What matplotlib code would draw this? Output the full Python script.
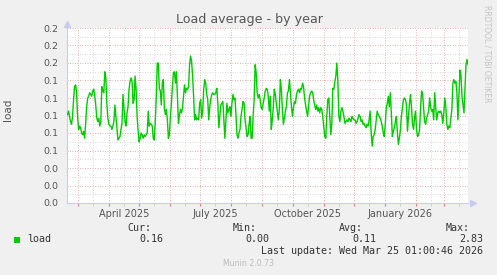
import pandas as pd
import matplotlib
matplotlib.use('Agg')
import matplotlib.pyplot as plt
import matplotlib.dates as mdates
from matplotlib.ticker import MultipleLocator, FormatStrFormatter, FuncFormatter, NullFormatter
from matplotlib.patches import Rectangle

# Daily load average (about one value per day)
load = [
    0.101, 0.105, 0.099, 0.093, 0.090, 0.099, 0.118, 0.133, 0.135, 0.126, 0.099, 0.084, 0.088,
    0.086, 0.080, 0.078, 0.082, 0.074, 0.091, 0.110, 0.120, 0.122, 0.126, 0.124, 0.122, 0.128,
    0.130, 0.122, 0.112, 0.097, 0.093, 0.097, 0.088, 0.093, 0.133, 0.128, 0.126, 0.150, 0.143,
    0.114, 0.097, 0.090, 0.088, 0.088, 0.084, 0.088, 0.093, 0.112, 0.099, 0.086, 0.072, 0.074,
    0.076, 0.084, 0.091, 0.124, 0.109, 0.093, 0.088, 0.103, 0.110, 0.130, 0.139, 0.143, 0.139,
    0.114, 0.118, 0.145, 0.130, 0.099, 0.082, 0.070, 0.074, 0.080, 0.078, 0.074, 0.078, 0.076,
    0.078, 0.080, 0.105, 0.088, 0.091, 0.090, 0.088, 0.074, 0.072, 0.093, 0.122, 0.160, 0.160,
    0.131, 0.128, 0.112, 0.137, 0.141, 0.109, 0.101, 0.107, 0.095, 0.074, 0.078, 0.099, 0.114,
    0.133, 0.149, 0.150, 0.137, 0.150, 0.122, 0.091, 0.101, 0.107, 0.103, 0.109, 0.122, 0.135,
    0.126, 0.131, 0.130, 0.133, 0.158, 0.168, 0.162, 0.145, 0.122, 0.095, 0.101, 0.095, 0.097,
    0.095, 0.114, 0.118,
    0.097, 0.105, 0.130, 0.141, 0.137, 0.124, 0.118, 0.095, 0.110, 0.118, 0.124, 0.126, 0.124,
    0.124, 0.126, 0.131, 0.114, 0.086, 0.099, 0.112, 0.114, 0.116, 0.095, 0.074, 0.093, 0.114,
    0.103, 0.107, 0.110, 0.099, 0.114, 0.124, 0.118, 0.120, 0.101, 0.078, 0.074, 0.080, 0.084,
    0.099, 0.107, 0.116, 0.114, 0.095, 0.086, 0.076, 0.078, 0.090, 0.099, 0.074, 0.074, 0.099,
    0.118, 0.158, 0.149, 0.126, 0.120, 0.124, 0.118, 0.109, 0.107, 0.114, 0.120, 0.128, 0.131,
    0.130, 0.122, 0.105,
    0.122, 0.084, 0.095, 0.109, 0.130, 0.124, 0.114, 0.103, 0.095, 0.107, 0.141, 0.130, 0.107,
    0.090, 0.097, 0.105, 0.110, 0.126, 0.128, 0.141, 0.126, 0.110, 0.099, 0.109, 0.116, 0.114,
    0.124, 0.128, 0.130, 0.126, 0.131, 0.130, 0.137, 0.133, 0.120, 0.112, 0.105, 0.099, 0.112,
    0.122, 0.126, 0.128, 0.126, 0.118, 0.112, 0.107, 0.112, 0.105, 0.109, 0.103, 0.109, 0.107,
    0.099, 0.088, 0.076, 0.074, 0.099, 0.118, 0.120, 0.099, 0.078, 0.091, 0.131, 0.130, 0.139,
    0.145, 0.160, 0.139,
    0.099, 0.093, 0.105, 0.109, 0.105, 0.099, 0.091, 0.093, 0.095, 0.093, 0.097, 0.095, 0.093,
    0.099, 0.097, 0.095, 0.095, 0.091, 0.093, 0.097, 0.101, 0.099, 0.093, 0.095, 0.090, 0.091,
    0.088, 0.086, 0.090, 0.088, 0.095, 0.105, 0.080, 0.065, 0.076, 0.078, 0.084, 0.095, 0.105,
    0.101, 0.099, 0.097, 0.093, 0.088, 0.080, 0.076, 0.090, 0.109, 0.114, 0.122, 0.110, 0.126,
    0.103, 0.076, 0.082, 0.086, 0.093, 0.099, 0.080, 0.067, 0.074, 0.084, 0.099, 0.109, 0.118,
    0.120, 0.118, 0.112,
    0.082, 0.099, 0.114, 0.124, 0.109, 0.090, 0.084, 0.097, 0.105, 0.084, 0.076, 0.078, 0.084,
    0.109, 0.128, 0.124, 0.109, 0.093, 0.090, 0.097, 0.101, 0.105, 0.120, 0.109, 0.105, 0.107,
    0.095, 0.126, 0.109, 0.095, 0.103, 0.105, 0.103, 0.105, 0.101, 0.091, 0.103, 0.120, 0.110,
    0.090, 0.084, 0.088, 0.086, 0.097, 0.107, 0.137, 0.141, 0.137, 0.139, 0.126, 0.095, 0.122,
    0.152, 0.147, 0.122, 0.112, 0.103, 0.130, 0.158, 0.164, 0.158,
]

stat_names = ['Cur:', 'Min:', 'Avg:', 'Max:']
stat_values = ['0.16', '0.00', '0.11', '2.83']
quarter_months = [1, 4, 7, 10]
last_update = 'Last update: Wed Mar 25 01:00:46 2026'

start = pd.Timestamp('2025-02-18 01:00')
end = pd.Timestamp('2026-03-25 01:00')
dates = pd.date_range(start + pd.Timedelta(hours=12), end, periods=len(load))

W, H = 497, 275
fig = plt.figure(figsize=(W / 100, H / 100), dpi=100, facecolor='#F0F0F0')
ax = fig.add_axes([67 / W, 72 / H, 401 / W, 175 / H])
ax.set_facecolor('white')

ax.plot(dates, load, color='#00CC00', lw=1.0, zorder=3)
ax.set_xlim(start, end)
ax.set_ylim(0, 0.2)

# y axis: 0.02 steps, labels with one decimal like rrdtool
ax.yaxis.set_major_locator(MultipleLocator(0.02))
ax.yaxis.set_minor_locator(MultipleLocator(0.01))
ax.yaxis.set_major_formatter(FormatStrFormatter('%.1f'))

# x axis: red lines at month starts, grey at mid month, labels every quarter
ax.xaxis.set_major_locator(mdates.MonthLocator())
ax.xaxis.set_minor_locator(mdates.MonthLocator(bymonthday=16))
ax.xaxis.set_major_formatter(NullFormatter())

def quarter_label(x, pos):
    d = mdates.num2date(x)
    if d.month in quarter_months:
        return d.strftime('%B %Y')
    return ''

ax.xaxis.set_minor_formatter(FuncFormatter(quarter_label))

ax.grid(which='major', color='#ECB4B4', lw=0.72, ls=(0, (1, 1.5)), zorder=1)
ax.grid(which='minor', color='#DADADA', lw=0.72, ls=(0, (1, 1.5)), zorder=1)
ax.set_axisbelow(True)

ax.tick_params(axis='y', which='both', length=0, pad=6, labelsize=6.8, labelcolor='#555555')
ax.tick_params(axis='x', which='major', length=2, color='#E08080', direction='out')
ax.tick_params(axis='x', which='minor', length=2, color='#C8C8C8', direction='out',
               pad=2, labelsize=7, labelcolor='#555555')

for s in ['top', 'right']:
    ax.spines[s].set_visible(False)
for s in ['left', 'bottom']:
    ax.spines[s].set_color('#C8CCEE')
    ax.spines[s].set_linewidth(0.8)

# axis arrows
ax.plot([0], [1.025], marker='^', ms=5, color='#C8CCEE', transform=ax.transAxes, clip_on=False)
ax.plot([1.012], [0], marker='>', ms=5, color='#C8CCEE', transform=ax.transAxes, clip_on=False)


def fx(x):
    return x / W


def fy(y):
    return 1 - y / H


fig.text(fx(250), fy(19), 'Load average - by year', ha='center', va='center',
         fontsize=9.1, color='#555555')
fig.text(fx(8), fy(110), 'load', rotation=90, ha='center', va='center',
         fontsize=7.5, color='#555555')
fig.text(fx(487), fy(54), 'RRDTOOL / TOBI OETIKER', rotation=270, ha='center', va='center',
         fontsize=5.5, color='#C4C4C4')

# legend block
mono = 'DejaVu Sans Mono'
fig.patches.append(Rectangle((fx(14), fy(243)), 6 / W, 6 / H, transform=fig.transFigure,
                             facecolor='#00CC00', edgecolor='none'))
fig.text(fx(27), fy(239), 'load', ha='left', va='center', fontsize=7.2,
         family=mono, color='#333333')
name_right = [151, 257, 363, 470]
value_right = [163, 269, 376, 483]
for name, val, nx, vx in zip(stat_names, stat_values, name_right, value_right):
    fig.text(fx(nx), fy(228), name, ha='right', va='center', fontsize=7.2,
             family=mono, color='#333333')
    fig.text(fx(vx), fy(239), val, ha='right', va='center', fontsize=7.2,
             family=mono, color='#333333')
fig.text(fx(483), fy(251), last_update, ha='right', va='center', fontsize=7.2,
         family=mono, color='#333333')
fig.text(fx(248), fy(264), 'Munin 2.0.73', ha='center', va='center', fontsize=5.6,
         color='#BBBBBB')

fig.savefig('out.png', dpi=100, facecolor=fig.get_facecolor())
